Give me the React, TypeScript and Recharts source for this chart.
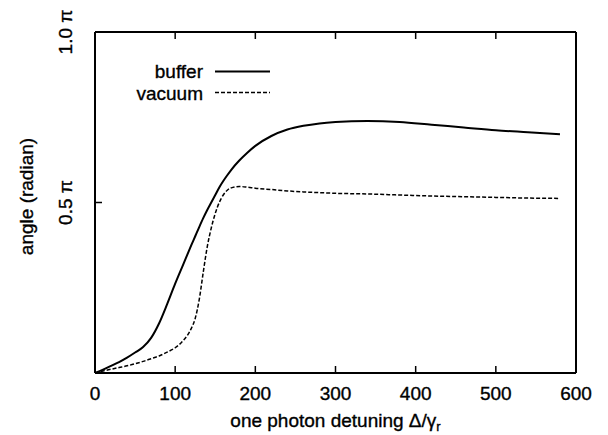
import React from 'react';
import { LineChart, Line, XAxis, YAxis, Legend, Label } from 'recharts';

const detuning = [0, 10, 20, 30, 40, 50, 60, 70, 80, 90, 100, 110, 120, 125, 130, 135, 140, 145, 150, 155, 160, 165, 170, 180, 190, 200, 220, 240, 260, 280, 300, 340, 380, 420, 460, 500, 540, 580];
const bufferAngle = [0, 0.01, 0.021, 0.032, 0.045, 0.06, 0.076, 0.103, 0.146, 0.202, 0.262, 0.318, 0.374, 0.401, 0.428, 0.454, 0.478, 0.5, 0.522, 0.544, 0.563, 0.58, 0.596, 0.623, 0.646, 0.666, 0.695, 0.714, 0.725, 0.732, 0.736, 0.739, 0.736, 0.728, 0.72, 0.712, 0.706, 0.7];
const vacuumAngle = [0, 0.006, 0.011, 0.016, 0.021, 0.027, 0.034, 0.042, 0.05, 0.061, 0.074, 0.095, 0.13, 0.16, 0.215, 0.295, 0.37, 0.425, 0.468, 0.5, 0.522, 0.536, 0.543, 0.547, 0.545, 0.542, 0.538, 0.534, 0.531, 0.529, 0.527, 0.525, 0.522, 0.519, 0.517, 0.515, 0.513, 0.512];
const xTicks = [0, 100, 200, 300, 400, 500, 600];
const yTicks = [0.5, 1.0];
const yTickLabels = ['0.5 π', '1.0 π'];

const data = detuning.map((d, i) => ({ d, buffer: bufferAngle[i], vacuum: vacuumAngle[i] }));

const FONT = '"Liberation Sans", Arial, Helvetica, sans-serif';
const FS = 19;
const TICK = 7;
const TXT = { fontFamily: FONT, fontSize: FS, fill: '#000', stroke: '#000', strokeWidth: 0.35 };

const BottomTick = (props: any) => {
  const { x, y, payload } = props;
  return (
    <g>
      <line x1={x} y1={y} x2={x} y2={y - TICK} stroke="#000" strokeWidth={1.5} />
      <text x={x} y={y + 27} textAnchor="middle" {...TXT}>{payload.value}</text>
    </g>
  );
};

const TopTick = (props: any) => {
  const { x, y } = props;
  return <line x1={x} y1={y} x2={x} y2={y + TICK} stroke="#000" strokeWidth={1.5} />;
};

const LeftTick = (props: any) => {
  const { x, y, payload } = props;
  const idx = yTicks.indexOf(payload.value);
  const lx = x - 23;
  return (
    <g>
      <line x1={x} y1={y} x2={x + TICK} y2={y} stroke="#000" strokeWidth={1.5} />
      <text x={lx} y={y} transform={`rotate(-90, ${lx}, ${y})`} textAnchor="middle" {...TXT}>{idx >= 0 ? yTickLabels[idx] : ''}</text>
    </g>
  );
};

const RightTick = (props: any) => {
  const { x, y } = props;
  return <line x1={x} y1={y} x2={x - TICK} y2={y} stroke="#000" strokeWidth={1.5} />;
};

const XTitle = (props: any) => {
  const vb = props.viewBox || {};
  const cx = vb.x + vb.width / 2;
  const cy = vb.y + 54;
  return (
    <text x={cx} y={cy} textAnchor="middle" {...TXT}>
      one photon detuning Δ/γ<tspan fontSize={13} dy={4}>r</tspan>
    </text>
  );
};

const YTitle = (props: any) => {
  const vb = props.viewBox || {};
  const lx = vb.x - 61;
  const cy = vb.y + vb.height / 2 - 6;
  return (
    <text x={lx} y={cy} transform={`rotate(-90, ${lx}, ${cy})`} textAnchor="middle" {...TXT}>angle (radian)</text>
  );
};

const dashFor: Record<string, string | undefined> = { buffer: undefined, vacuum: '4 2' };
const widthFor: Record<string, number> = { buffer: 2, vacuum: 1.5 };

const LegendContent = (props: any) => {
  const payload = props.payload || [];
  return (
    <svg width={608} height={110} style={{ display: 'block' }}>
      {payload.map((p: any, i: number) => (
        <g key={p.value}>
          <text x={203} y={78 + i * 22} textAnchor="end" {...TXT}>{p.value}</text>
          <line x1={215} x2={270} y1={71.5 + i * 21} y2={71.5 + i * 21} stroke="#000" strokeWidth={widthFor[p.value]} strokeDasharray={dashFor[p.value]} />
        </g>
      ))}
    </svg>
  );
};

export default function App() {
  return (
    <div style={{ position: 'absolute', left: 0, top: 0, background: '#fff' }}>
      <LineChart width={608} height={435} data={data} margin={{ top: 31, right: 31, bottom: 61, left: 94 }}>
        <XAxis xAxisId="b" dataKey="d" type="number" domain={[0, 600]} ticks={xTicks} orientation="bottom" height={1}
          tickSize={0} tickMargin={0} tickLine={false} tick={<BottomTick />} axisLine={{ stroke: '#000', strokeWidth: 2 }} interval={0}>
          <Label content={<XTitle />} />
        </XAxis>
        <XAxis xAxisId="t" dataKey="d" type="number" domain={[0, 600]} ticks={xTicks} orientation="top" height={1}
          tickSize={0} tickMargin={0} tickLine={false} tick={<TopTick />} axisLine={{ stroke: '#000', strokeWidth: 2 }} interval={0} />
        <YAxis yAxisId="l" type="number" domain={[0, 1]} ticks={yTicks} orientation="left" width={1}
          tickSize={0} tickMargin={0} tickLine={false} tick={<LeftTick />} axisLine={{ stroke: '#000', strokeWidth: 2 }} interval={0}>
          <Label content={<YTitle />} />
        </YAxis>
        <YAxis yAxisId="r" type="number" domain={[0, 1]} ticks={yTicks} orientation="right" width={1}
          tickSize={0} tickMargin={0} tickLine={false} tick={<RightTick />} axisLine={{ stroke: '#000', strokeWidth: 2 }} interval={0} />
        <Legend layout="horizontal" verticalAlign="middle" align="center" content={<LegendContent />}
          wrapperStyle={{ position: 'absolute', left: 0, top: 0, width: 608, height: 110 }} />
        <Line xAxisId="b" yAxisId="l" type="monotone" dataKey="buffer" name="buffer" stroke="#000" strokeWidth={2} dot={false} activeDot={false} isAnimationActive={false} />
        <Line xAxisId="b" yAxisId="l" type="monotone" dataKey="vacuum" name="vacuum" stroke="#000" strokeWidth={1.5} strokeDasharray="4 2" dot={false} activeDot={false} isAnimationActive={false} />
      </LineChart>
    </div>
  );
}
